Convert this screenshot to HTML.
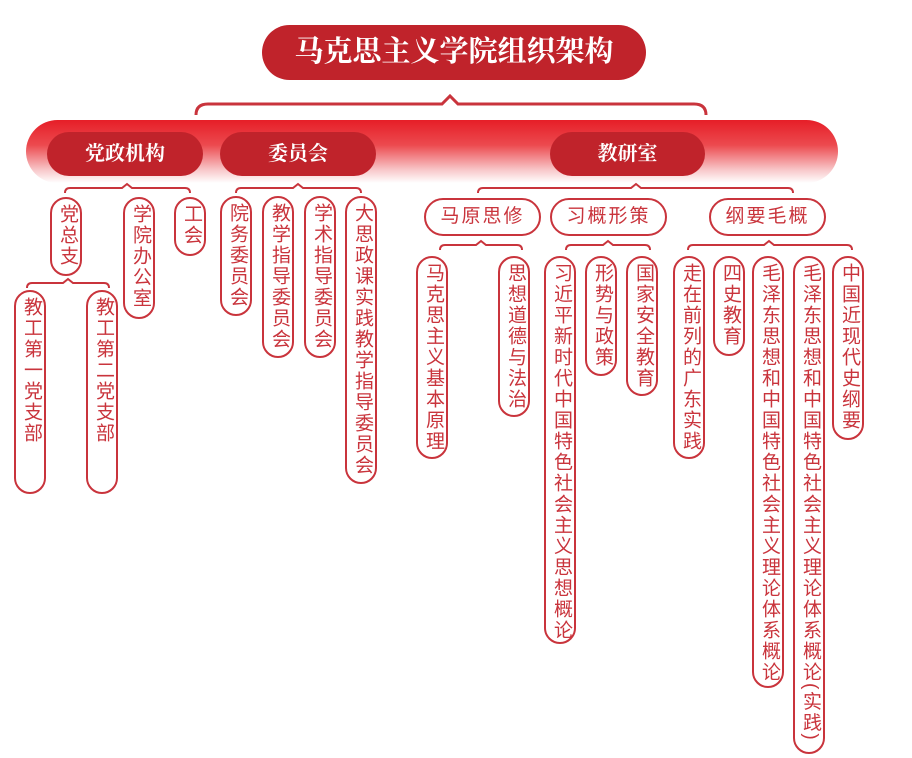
<!DOCTYPE html>
<html><head><meta charset="utf-8"><style>
body{margin:0;width:912px;height:758px;background:#fff;position:relative;overflow:hidden;font-family:"Liberation Sans","Noto Sans CJK SC",sans-serif}
.a{position:absolute}
.t{position:absolute;background:#c0232b;color:#fff;border-radius:28px;text-align:center;font-family:"Liberation Serif","Noto Serif CJK SC",serif;font-weight:bold}
.v{position:absolute;width:28px;border:2px solid #c9343c;border-radius:16px;background:#fff;color:#c9343c;font-size:19px;text-align:center;box-sizing:content-box;padding-top:5px}
.v span{display:inline-block;writing-mode:vertical-rl;white-space:nowrap;letter-spacing:2px;line-height:28px;width:28px;position:relative;left:1px}
.h{position:absolute;height:34px;border:2px solid #c9343c;border-radius:19px;background:#fff;color:#c9343c;font-size:19px;line-height:34px;text-align:center;letter-spacing:2px}
</style></head><body>
<div class="a" style="left:26px;top:120px;width:812px;height:63px;border-radius:32px;background:linear-gradient(#e61e27 0%,#ec4a4f 40%,#f8c9cb 80%,#fff 100%)"></div>
<div class="t" style="left:262px;top:25px;width:384px;height:55px;line-height:55px;font-size:29px">马克思主义学院组织架构</div>
<div class="t" style="left:47px;top:132px;width:156px;height:44px;line-height:44px;font-size:20px">党政机构</div>
<div class="t" style="left:220px;top:132px;width:156px;height:44px;line-height:44px;font-size:20px">委员会</div>
<div class="t" style="left:550px;top:132px;width:155px;height:44px;line-height:44px;font-size:20px">教研室</div>
<svg class="a" style="left:0;top:0" width="912" height="758" fill="none" stroke="#c9343c" stroke-width="2">
<path d="M196 115 Q196 104 208 104 L442 104 L450 96 L458 104 L694 104 Q706 104 706 115" stroke-width="3"/>
<path d="M65 193 Q65 188 70 188 L122 188 L127 184 L132 188 L185 188 Q190 188 190 193"/>
<path d="M236 193 Q236 188 241 188 L293 188 L298 184 L303 188 L356 188 Q361 188 361 193"/>
<path d="M478 193 Q478 188 483 188 L631 188 L636 184 L641 188 L788 188 Q793 188 793 193"/>
<path d="M27 288 Q27 283 32 283 L63 283 L68 279 L73 283 L104 283 Q109 283 109 288"/>
<path d="M440 250 Q440 245 445 245 L476 245 L481 241 L486 245 L517 245 Q522 245 522 250"/>
<path d="M566 250 Q566 245 571 245 L603 245 L608 241 L613 245 L645 245 Q650 245 650 250"/>
<path d="M688 250 Q688 245 693 245 L764 245 L769 241 L774 245 L847 245 Q852 245 852 250"/>
</svg>
<div class="v" style="left:50px;top:197px;height:70px"><span>党总支</span></div>
<div class="v" style="left:123px;top:197px;height:113px"><span>学院办公室</span></div>
<div class="v" style="left:174px;top:197px;height:50px"><span>工会</span></div>
<div class="v" style="left:14px;top:290px;height:195px"><span>教工第一党支部</span></div>
<div class="v" style="left:86px;top:290px;height:195px"><span>教工第二党支部</span></div>
<div class="v" style="left:220px;top:196px;height:111px"><span>院务委员会</span></div>
<div class="v" style="left:262px;top:196px;height:153px"><span>教学指导委员会</span></div>
<div class="v" style="left:304px;top:196px;height:153px"><span>学术指导委员会</span></div>
<div class="v" style="left:345px;top:196px;height:279px"><span>大思政课实践教学指导委员会</span></div>
<div class="h" style="left:424px;top:198px;width:113px">马原思修</div>
<div class="h" style="left:550px;top:198px;width:113px">习概形策</div>
<div class="h" style="left:709px;top:198px;width:113px">纲要毛概</div>
<div class="v" style="left:416px;top:256px;height:194px"><span>马克思主义基本原理</span></div>
<div class="v" style="left:498px;top:256px;height:152px"><span>思想道德与法治</span></div>
<div class="v" style="left:544px;top:256px;height:379px"><span>习近平新时代中国特色社会主义思想概论</span></div>
<div class="v" style="left:585px;top:256px;height:111px"><span>形势与政策</span></div>
<div class="v" style="left:626px;top:256px;height:131px"><span>国家安全教育</span></div>
<div class="v" style="left:673px;top:256px;height:194px"><span>走在前列的广东实践</span></div>
<div class="v" style="left:713px;top:256px;height:91px"><span>四史教育</span></div>
<div class="v" style="left:752px;top:256px;height:423px"><span>毛泽东思想和中国特色社会主义理论体系概论</span></div>
<div class="v" style="left:793px;top:256px;height:489px"><span>毛泽东思想和中国特色社会主义理论体系概论(实践)</span></div>
<div class="v" style="left:832px;top:256px;height:175px"><span>中国近现代史纲要</span></div>
</body></html>
